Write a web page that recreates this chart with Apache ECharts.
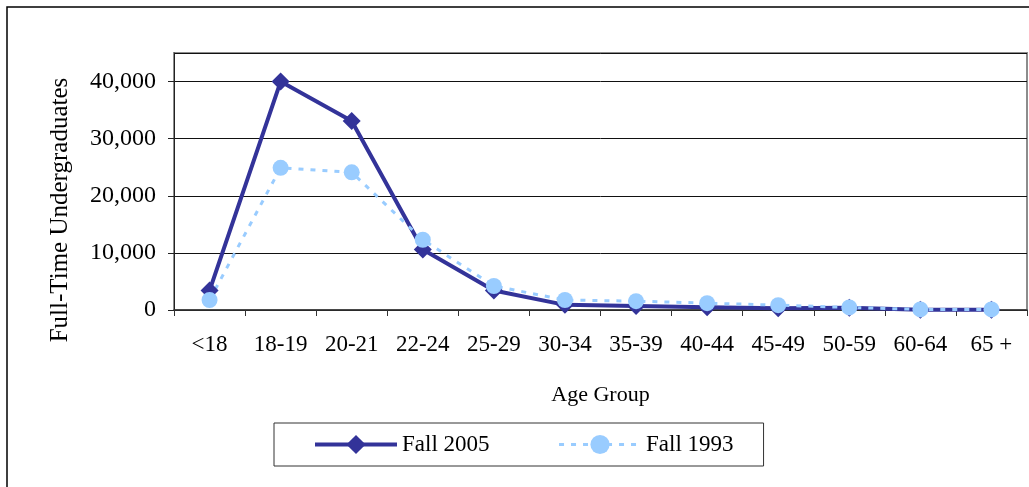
<!DOCTYPE html>
<html>
<head>
<meta charset="utf-8">
<script src="https://cdn.jsdelivr.net/npm/echarts@6/dist/echarts.min.js"></script>
<style>
  html, body { margin: 0; padding: 0; background: #fff; }
  #chart { width: 1029px; height: 487px; }
</style>
</head>
<body>
<div id="chart"></div>
<script>
// 数据
var ageGroups = ['<18', '18-19', '20-21', '22-24', '25-29', '30-34', '35-39', '40-44', '45-49', '50-59', '60-64', '65 +'];
var fall2005 = [3400, 40000, 33100, 10600, 3400, 900, 700, 500, 300, 400, 50, 50];
var fall1993 = [1750, 24900, 24100, 12300, 4200, 1750, 1550, 1200, 850, 450, 100, 100];
var yTicks = [0, 10000, 20000, 30000, 40000];

var serif = 'Liberation Serif, Times New Roman, serif';

var myChart = echarts.init(document.getElementById('chart'));
var option = {
    animation: false,
    backgroundColor: '#fff',
    textStyle: { fontFamily: serif },
    graphic: [
        {
            type: 'rect',
            shape: { x: 7, y: 7, width: 1040, height: 500 },
            style: { fill: null, stroke: '#000', lineWidth: 1.5 },
            silent: true
        },
        {
            type: 'text',
            x: 60,
            y: 210,
            rotation: Math.PI / 2,
            style: {
                text: 'Full-Time Undergraduates',
                fontFamily: serif,
                fontSize: 25,
                fill: '#000',
                align: 'center',
                verticalAlign: 'middle'
            }
        }
    ],
    grid: {
        left: 174,
        right: 2,
        top: 53,
        bottom: 177,
        show: true,
        borderColor: '#8c8c8c',
        borderWidth: 2
    },
    legend: {
        left: 274,
        top: 423,
        padding: [10, 30, 10, 39],
        itemWidth: 82,
        itemHeight: 24,
        itemGap: 68,
        borderColor: '#333',
        borderWidth: 1,
        textStyle: { fontFamily: serif, fontSize: 23, color: '#000' },
        data: [
            { name: 'Fall 2005', lineStyle: { width: 4 } },
            { name: 'Fall 1993', lineStyle: { width: 3 } }
        ]
    },
    xAxis: {
        type: 'category',
        data: ageGroups,
        boundaryGap: true,
        name: 'Age Group',
        nameLocation: 'middle',
        nameGap: 74,
        nameTextStyle: { fontFamily: serif, fontSize: 22, color: '#000' },
        axisLine: { lineStyle: { color: '#333', width: 1.5 } },
        axisTick: { show: true, length: 6, lineStyle: { color: '#333' } },
        axisLabel: { fontFamily: serif, fontSize: 23, color: '#000', margin: 23, interval: 0 }
    },
    yAxis: {
        type: 'value',
        min: 0,
        max: 45000,
        interval: 10000,
        axisLine: { show: true, lineStyle: { color: '#222', width: 1 } },
        axisTick: { show: true, length: 6, lineStyle: { color: '#222' } },
        splitLine: { show: true, lineStyle: { color: '#111', width: 1 } },
        axisLabel: {
            fontFamily: serif,
            fontSize: 24,
            color: '#000',
            margin: 18,
            showMaxLabel: false,
            formatter: function (v) {
                return yTicks.indexOf(v) >= 0 ? v.toLocaleString('en-US') : '';
            }
        }
    },
    series: [
        {
            name: 'Fall 2005',
            type: 'line',
            data: fall2005,
            symbol: 'diamond',
            symbolSize: 18,
            color: '#333399',
            lineStyle: { color: '#333399', width: 4 },
            itemStyle: { color: '#333399' }
        },
        {
            name: 'Fall 1993',
            type: 'line',
            data: fall1993,
            symbol: 'circle',
            symbolSize: 16,
            color: '#99ccff',
            lineStyle: { color: '#99ccff', width: 3, type: [5, 7] },
            itemStyle: { color: '#99ccff' }
        }
    ]
};
myChart.setOption(option);
</script>
</body>
</html>
